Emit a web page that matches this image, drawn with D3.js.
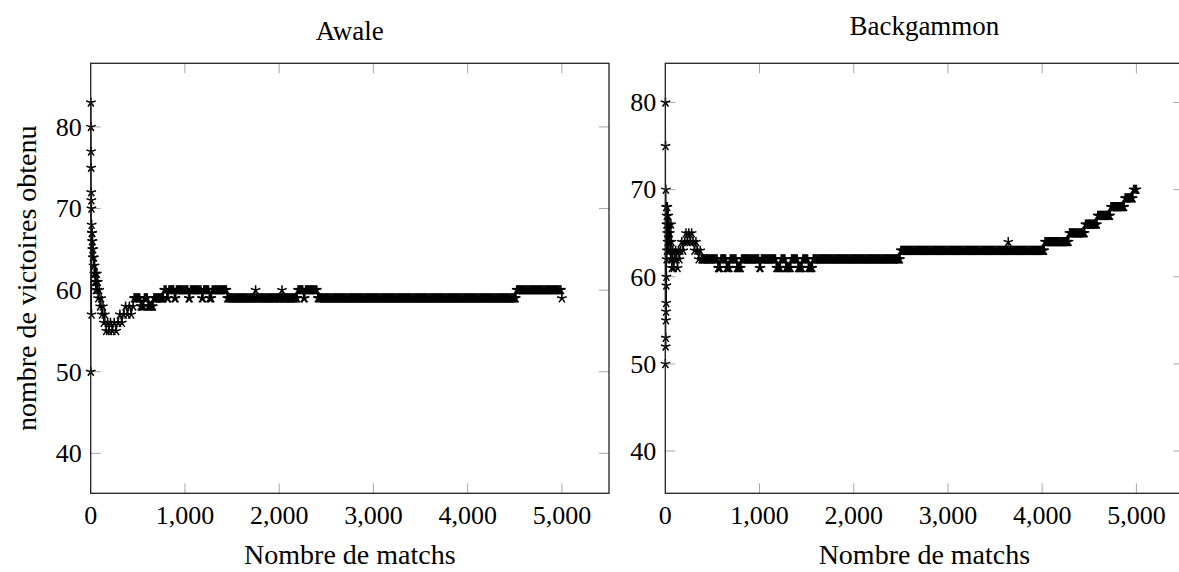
<!DOCTYPE html>
<html>
<head>
<meta charset="utf-8">
<script src="https://cdn.jsdelivr.net/npm/d3@7"></script>
<style>
  body { margin: 0; background: #fff; }
  text { font-family: "Liberation Serif", "DejaVu Serif", serif; fill: #000; }
</style>
</head>
<body>
<div id="chart"></div>
<script>
// ---- data ----
var yTicks = [40, 50, 60, 70, 80];
var xTicks = [0, 1000, 2000, 3000, 4000, 5000];

// Awale: first matches, one point each
var awaleEarlyX = [1, 2, 3, 4, 5, 6, 7, 8, 9, 10, 12, 14, 16, 18, 20, 23, 26, 30, 34, 38, 42, 46, 50, 55, 60, 65, 70, 75, 80, 90, 100, 110, 120, 130, 140, 150, 165, 180, 195, 210, 230, 250, 270, 290, 310, 330, 350, 370, 390, 410, 430, 450];
var awaleEarlyY = [50, 83, 80, 77, 75, 72, 71, 70, 57, 68, 67, 66, 67, 65, 66, 64, 65, 63, 64, 62, 63, 61, 62, 60, 61, 62, 60, 61, 59, 60, 58, 59, 57, 58, 56, 57, 55, 56, 55, 56, 55, 56, 55, 56, 57, 56, 57, 58, 57, 58, 57, 58];
// Awale: later matches, runs of the same value
var awaleRunStart = [460, 530, 570, 610, 670, 780, 810, 830, 890, 910, 1040, 1060, 1180, 1200, 1260, 1290, 1330, 1450, 1750, 1760, 2030, 2040, 2200, 2260, 2280, 2410, 4520, 5000];
var awaleRunEnd   = [520, 560, 600, 660, 770, 800, 820, 880, 900, 1030, 1050, 1170, 1190, 1250, 1280, 1320, 1440, 1740, 1750, 2020, 2030, 2190, 2250, 2270, 2400, 4510, 4990, 5000];
var awaleRunValue = [59, 58, 59, 58, 59, 60, 59, 60, 59, 60, 59, 60, 59, 60, 59, 60, 60, 59, 60, 59, 60, 59, 60, 59, 60, 59, 60, 59];

// Backgammon
var backEarlyX = [1, 2, 3, 4, 5, 6, 7, 8, 9, 10, 11, 12, 13, 14, 16, 18, 20, 22, 25, 28, 31, 34, 37, 40, 44, 48, 52, 56, 60, 65, 70, 75, 80, 90, 100, 110, 120, 130, 140, 150, 160, 175, 190, 205, 220, 235, 250, 265, 280, 295, 310, 325, 340, 355, 370, 385];
var backEarlyY = [50, 80, 75, 52, 53, 70, 55, 56, 68, 57, 59, 60, 66, 62, 67, 63, 65, 68, 64, 66, 67, 63, 65, 66, 64, 65, 63, 62, 66, 64, 61, 62, 63, 61, 62, 63, 62, 61, 63, 62, 63, 64, 63, 64, 65, 64, 65, 64, 65, 64, 63, 64, 63, 62, 63, 62];
var backRunStart = [390, 560, 590, 650, 690, 760, 810, 1000, 1020, 1180, 1230, 1280, 1340, 1410, 1460, 1520, 1570, 2500, 3640, 3650, 4030, 4290, 4460, 4590, 4730, 4880, 4970];
var backRunEnd   = [550, 580, 640, 680, 750, 800, 990, 1010, 1170, 1220, 1270, 1330, 1400, 1450, 1510, 1560, 2490, 3630, 3640, 4020, 4280, 4450, 4580, 4720, 4870, 4960, 5000];
var backRunValue = [62, 61, 62, 61, 62, 61, 62, 61, 62, 61, 62, 61, 62, 61, 62, 61, 62, 63, 64, 63, 64, 65, 66, 67, 68, 69, 70];

// ---- layout ----
var svgWidth = 1179;
var svgHeight = 572;

var svg = d3.select("#chart")
	.append("svg")
	.attr("width", svgWidth)
	.attr("height", svgHeight);

function buildSeries(earlyX, earlyY, runStart, runEnd, runValue, step) {
	var pts = earlyX.map((x, i) => ({ x: x, y: earlyY[i] }));
	runStart.forEach(function(s, i) {
		for (var m = s; m <= runEnd[i]; m += step) {
			pts.push({ x: m, y: runValue[i] });
		}
	});
	return pts;
}

function starPath(r) {
	var p = "";
	for (var k = 0; k < 5; k++) {
		var a = (-90 + 72 * k) * Math.PI / 180;
		p += "M0,0L" + (r * Math.cos(a)).toFixed(2) + "," + (r * Math.sin(a)).toFixed(2);
	}
	return p;
}

function drawPanel(opts) {
	var g = svg.append("g");
	var x = d3.scaleLinear().domain([0, 5500]).range([opts.left, opts.right]);
	var y = d3.scaleLinear().domain(opts.yDomain).range([opts.bottom, opts.top]);
	var tickLen = 10;

	// ticks, inward on all four sides
	var tickColor = "#a8a8a8";
	xTicks.forEach(function(t) {
		if (t === 0) return;
		g.append("line").attr("x1", x(t)).attr("x2", x(t))
			.attr("y1", opts.bottom).attr("y2", opts.bottom - tickLen)
			.attr("stroke", tickColor).attr("stroke-width", 1);
		g.append("line").attr("x1", x(t)).attr("x2", x(t))
			.attr("y1", opts.top).attr("y2", opts.top + tickLen)
			.attr("stroke", tickColor).attr("stroke-width", 1);
	});
	yTicks.forEach(function(t) {
		g.append("line").attr("x1", opts.left).attr("x2", opts.left + tickLen)
			.attr("y1", y(t)).attr("y2", y(t))
			.attr("stroke", tickColor).attr("stroke-width", 1);
		g.append("line").attr("x1", opts.right).attr("x2", opts.right - tickLen)
			.attr("y1", y(t)).attr("y2", y(t))
			.attr("stroke", tickColor).attr("stroke-width", 1);
	});

	// tick labels
	g.selectAll(".xlab")
		.data(xTicks)
		.enter()
		.append("text")
		.attr("x", d => x(d))
		.attr("y", opts.bottom + 31)
		.attr("text-anchor", "middle")
		.style("font-size", "26px")
		.text(d => d3.format(",")(d));

	g.selectAll(".ylab")
		.data(yTicks)
		.enter()
		.append("text")
		.attr("x", opts.left - 9)
		.attr("y", d => y(d))
		.attr("dy", "0.34em")
		.attr("text-anchor", "end")
		.style("font-size", "26px")
		.text(d => d);

	// data line + star marks
	var line = d3.line().x(d => x(d.x)).y(d => y(d.y));
	g.append("path")
		.datum(opts.data)
		.attr("d", line)
		.attr("fill", "none")
		.attr("stroke", "#000")
		.attr("stroke-width", 0.8);

	var star = starPath(5);
	g.selectAll(".mark")
		.data(opts.data)
		.enter()
		.append("path")
		.attr("d", star)
		.attr("transform", d => `translate(${x(d.x)},${y(d.y)})`)
		.attr("fill", "none")
		.attr("stroke", "#000")
		.attr("stroke-width", 1.5);

	// frame
	g.append("rect")
		.attr("x", opts.left)
		.attr("y", opts.top)
		.attr("width", opts.right - opts.left)
		.attr("height", opts.bottom - opts.top)
		.attr("fill", "none")
		.attr("stroke", "#222")
		.attr("stroke-width", 1.3);

	// titles
	g.append("text")
		.attr("x", (opts.left + opts.right) / 2)
		.attr("y", opts.titleY)
		.attr("text-anchor", "middle")
		.style("font-size", "27px")
		.text(opts.title);

	g.append("text")
		.attr("x", (opts.left + opts.right) / 2)
		.attr("y", opts.bottom + 71)
		.attr("text-anchor", "middle")
		.style("font-size", "28px")
		.text("Nombre de matchs");

	if (opts.yLabel) {
		g.append("text")
			.attr("transform", "rotate(-90)")
			.attr("x", -(opts.top + opts.bottom) / 2)
			.attr("y", 36)
			.attr("text-anchor", "middle")
			.style("font-size", "28px")
			.text(opts.yLabel);
	}
}

drawPanel({
	left: 90.7, right: 609, top: 63.3, bottom: 493.3,
	yDomain: [35.1, 87.8],
	title: "Awale", titleY: 40,
	yLabel: "nombre de victoires obtenu",
	data: buildSeries(awaleEarlyX, awaleEarlyY, awaleRunStart, awaleRunEnd, awaleRunValue, 10)
});

drawPanel({
	left: 665.3, right: 1183.5, top: 63.3, bottom: 493.3,
	yDomain: [35.15, 84.5],
	title: "Backgammon", titleY: 35,
	yLabel: null,
	data: buildSeries(backEarlyX, backEarlyY, backRunStart, backRunEnd, backRunValue, 10)
});
</script>
</body>
</html>
